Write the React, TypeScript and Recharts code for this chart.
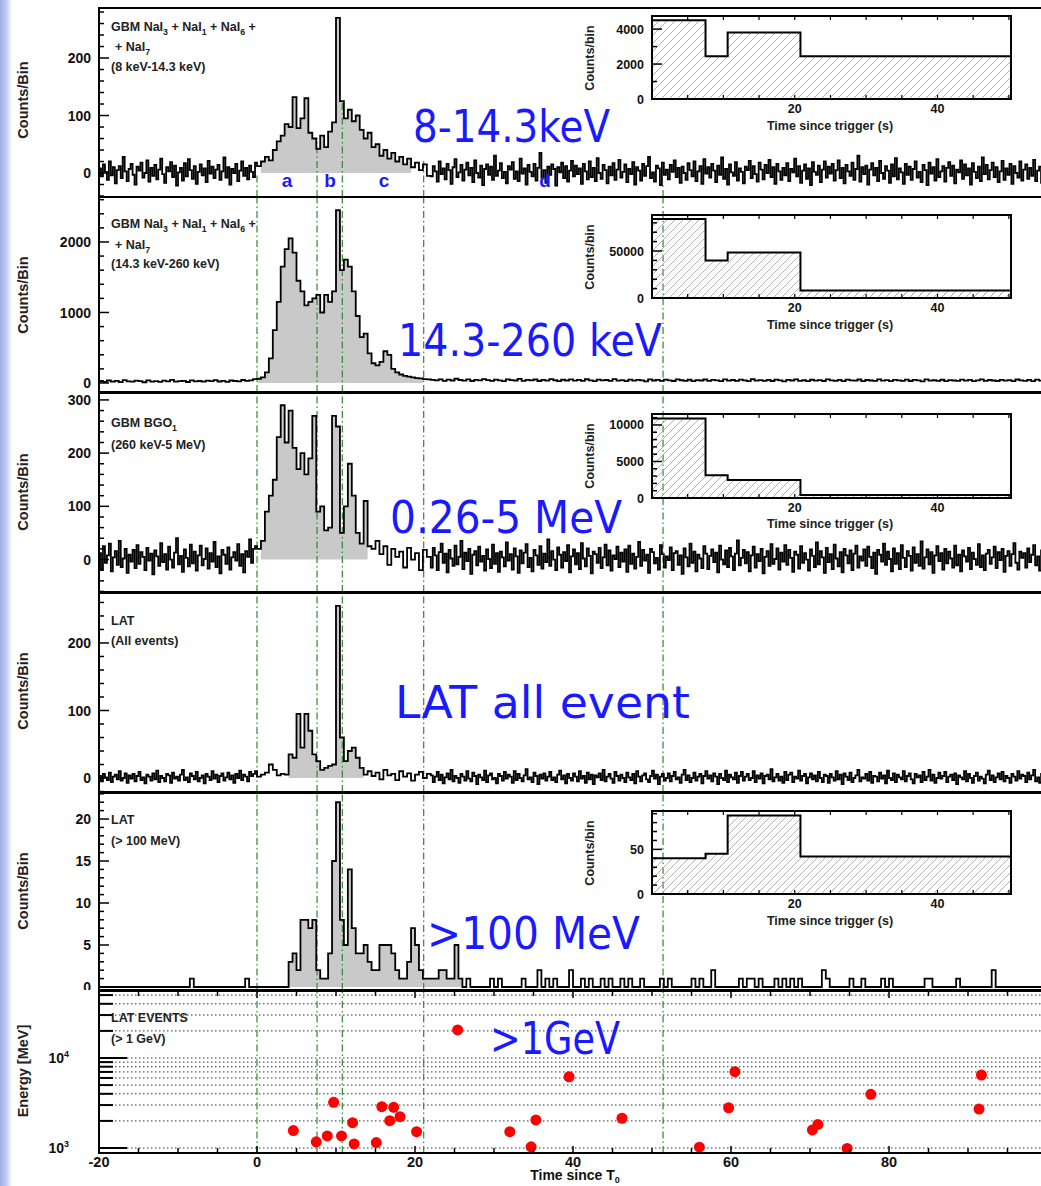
import React from 'react';
import { ComposedChart, Line, Area, XAxis, YAxis, ReferenceLine, Scatter } from 'recharts';

// light curves: pre-burst (-20..0 s) and tail (22..100 s) in 0.25 s bins where noted, burst (0..22 s) in 0.5 s bins
const naiLowPre = [
  8, -6, 15, 2, -12, 20, -4, 10, -18, 5, 12, -9, 28, 3, -14, 7, 16, -3, -20, 11,
  4, 18, -8, 0, 22, -15, 9, -5, 14, -11, 6, 25, -2, -17, 10, 3, 19, -7, 13, -22,
  1, 9, -13, 17, -6, 24, 5, -10, 12, -19, 2, 15, -4, 8, -16, 21, -1, 11, -9, 6,
  14, -12, 3, 27, -8, 10, -20, 7, 0, 16, -14, 4, 20, -5, 9, -11, 13, 2, -7, 18,
];
const naiLowBurst = [12, 20, 28, 22, 40, 55, 65, 85, 80, 132, 78, 95, 130, 70, 60, 42, 65, 45, 72, 88, 270, 125, 95, 110, 90, 100, 75, 60, 70, 45, 50, 30, 40, 25, 35, 20, 28, 15, 25, 10, 18, 5, 15, -5];
const naiLowPost = [
  -6, 12, 3, -15, 20, -2, 8, -11, 16, 5, -19, 10, 24, -7, 1, 14, -13, 6, 18, -4,
  9, -16, 22, 0, -8, 13, -21, 7, 15, -3, 11, -12, 30, -5, 4, 17, -9, 2, -18, 12,
  6, 19, -10, 3, -14, 25, -1, 8, -20, 14, 2, -6, 16, -13, 9, 35, -8, 5, -17, 11,
  -3, 15, 7, -22, 10, 1, 18, -9, 12, -15, 4, 21, -6, 13, -2, 8, -19, 16, 3, -11,
  20, -7, 9, -14, 26, 0, -10, 14, 5, -18, 11, -4, 17, -12, 6, 23, -8, 2, 15, -16,
  7, -2, 19, -20, 10, 4, -13, 16, -5, 12, 28, -9, 1, -15, 13, 8, -21, 18, -3, 6,
  -11, 14, 2, 22, -7, 9, -17, 11, 0, -12, 17, 5, -6, 20, -14, 3, 12, -19, 24, -1,
  10, -8, 16, 4, -16, 13, -3, 27, -10, 7, -20, 15, 1, -5, 19, -13, 8, 2, -18, 11,
  5, 21, -9, 12, -2, -15, 18, 6, -11, 14, 0, 23, -7, 10, -19, 16, 3, -12, 9, -4,
  17, -14, 7, 1, 25, -6, 12, -17, 4, 15, -10, 8, -21, 19, 2, -3, 13, -16, 6, 20,
  -8, 11, -1, 16, -13, 5, 22, -9, 9, -18, 14, 3, -5, 18, -12, 7, 30, -15, 10, -2,
  13, -20, 6, 17, -4, 9, -14, 21, 0, -10, 12, 4, -17, 15, -6, 26, -11, 8, 1, -19,
  16, -3, 11, -12, 7, 20, -8, 2, -16, 14, 5, -21, 18, -1, 10, -13, 24, -7, 3, 12,
  -15, 9, 19, -5, 13, -18, 6, 1, 22, -10, 15, -4, 8, -20, 17, 2, -9, 11, -14, 27,
  -2, 14, -11, 5, 18, -7, 10, -16, 3, 21, -12, 8, -3, 16, -19, 12, 0, -8, 20, -13,
  6, 15, -10, 9, -5, 23, -14, 4, 11, -17, 7, 19,
];

const naiHighPre = [28, 15, 35, 20, 30, 12, 40, 22, 18, 33, 25, 10, 38, 20, 27, 15, 32, 24, 45, 18, 26, 30, 14, 36, 22, 28, 19, 34, 25, 40, 21, 30, 17, 35, 28, 24, 42, 30, 38, 55];
const naiHighBurst = [60, 80, 150, 350, 750, 1150, 1650, 1900, 2050, 1850, 1450, 1300, 1100, 1150, 1200, 1250, 1000, 1250, 1150, 1300, 2450, 1600, 1750, 1650, 1300, 950, 650, 700, 420, 280, 250, 300, 450, 400, 200, 150, 120, 100, 90, 80, 70, 65, 55, 50];
const naiHighPost = [
  45, 38, 52, 30, 48, 35, 60, 42, 33, 50, 28, 44,
  36, 55, 40, 31, 47, 38, 26, 52, 41, 35, 58, 30,
  43, 37, 49, 28, 45, 33, 54, 39, 27, 46, 35, 50,
  32, 44, 29, 53, 38, 25, 47, 36, 42, 30, 56, 34,
  40, 27, 48, 33, 45, 38, 24, 51, 35, 43, 30, 47,
  36, 28, 52, 39, 31, 46, 26, 41, 35, 49, 30, 44,
  38, 25, 50, 33, 42, 29, 47, 36, 27, 53, 34, 40,
  31, 45, 28, 48, 37, 24, 43, 35, 50, 30, 39, 26,
  46, 33, 41, 28, 52, 36, 30, 44, 25, 47, 38, 32,
  49, 27, 42, 35, 29, 51, 33, 40, 26, 45, 37, 31,
  48, 28, 43, 36, 24, 50, 34, 39, 30, 46, 27, 41,
  35, 29, 47, 32, 44, 26, 38, 51, 30, 42, 35, 28,
  45, 33, 40, 27, 49, 36, 31, 43, 25, 47, 34, 38,
];

const bgoPre = [
  12, -18, 25, -6, 8, 30, -22, 4, 16, -10, 35, -14, 2, 20, -25, 9, -4, 18, -16, 27,
  -8, 14, 5, -20, 22, -2, 11, -28, 17, 6, -12, 31, -5, 10, -19, 24, 0, -15, 13, 40,
  -9, 7, -23, 19, 3, -13, 28, -7, 15, -21, 8, 26, -11, 1, 21, -17, 12, -4, 33, -14,
  6, -26, 18, 9, -8, 23, -19, 4, 14, -2, 29, -12, 10, -24, 16, 5, 38, -6, 20, 25,
];
const bgoBurst = [20, 35, 90, 120, 150, 230, 290, 220, 280, 210, 170, 200, 160, 190, 270, 90, 100, 55, 60, 270, 250, 50, 100, 180, 120, 50, 30, 110, 25, 20, 35, 10, 25, -10, 20, 5, 15, -15, 22, 0, 12, -20, 18, 5];
const bgoPost = [
  -15, 22, 8, -20, 14, 30, -6, 11, -24, 18, 2, -12, 26, -9, 5, 35, -18, 13, -3, 20,
  -27, 9, 16, -11, 24, -4, 7, -21, 19, 1, -16, 28, -8, 12, -23, 15, 4, -13, 32, -2,
  10, -19, 21, 6, -25, 17, -7, 13, 29, -14, 3, -22, 18, 8, -10, 25, -17, 11, -5, 38,
  -12, 16, 0, -20, 23, 9, -15, 14, -3, 27, -24, 6, 19, -9, 12, -18, 31, 2, -13, 21,
  7, -26, 15, 10, -6, 22, -16, 4, 28, -11, 17, -21, 8, 1, 24, -14, 13, -4, 19, -23,
  26, -8, 11, -17, 5, 33, -12, 18, -2, 9, -25, 20, 14, -7, 3, -19, 27, 10, -15, 6,
  -1, 23, -20, 12, 16, -10, 8, -27, 21, 4, -13, 30, -6, 15, -22, 9, 2, -16, 25, 11,
  -18, 7, 19, -5, 13, -24, 26, 0, -9, 17, -14, 22, 6, -20, 11, 36, -11, 3, 18, -7,
  14, -22, 8, 24, -15, 10, -3, 20, -26, 5, 16, -12, 29, -8, 1, 21, -19, 13, -4, 27,
  -10, 18, 3, -23, 15, 9, -17, 25, -6, 12, 0, -21, 19, 7, -14, 32, -9, 16, 4, -25,
  22, -5, 10, -18, 28, 2, -13, 14, -24, 20, 8, -7, 17, -20, 11, 26, -15, 6, -2, 19,
  -12, 24, 5, -16, 13, -27, 18, 9, -4, 30, -10, 15, 1, -22, 21, -8, 12, -18, 27, 3,
  -14, 16, 7, -21, 23, -6, 10, -12, 34, -17, 4, 19, -9, 14, -25, 8, 25, -3, 12, -19,
  20, -7, 15, 2, -15, 26, -11, 9, -22, 17, 6, -4, 22, -18, 13, 1, -10, 29, -14, 8,
  -20, 11, 18, -8, 4, 24, -16, 14, -1, 20, -23, 7, 16, -12, 10, 31, -6, -19, 15, 3,
  12, -15, 21, -5, 9, 27, -11, 6, -21, 17, 2, 14,
];

const latAllPre = [
  3, -5, 6, 1, -3, 8, -6, 2, 5, -2, 10, -4, 0, 7, -7, 4, -1, 6, -5, 3,
  9, -3, 1, -8, 5, 2, -4, 7, -2, 11, -6, 3, 0, -5, 6, 4, -7, 8, -1, 2,
  -4, 5, 12, -3, 1, -6, 7, 3, -2, 9, -5, 0, 4, -8, 6, 2, -3, 10, -1, 5,
  -6, 3, 7, -4, 1, 8, -2, 4, -7, 6, 0, 11, -3, 5, 2, -5, 9, 3, 6, 10,
];
const latAllBurst = [2, 5, 8, 20, 12, 4, 6, 5, 35, 30, 95, 45, 95, 70, 35, 25, 12, 15, 18, 20, 255, 60, 25, 40, 45, 30, 15, 5, 10, 3, 8, -2, 12, 4, 6, -3, 10, 2, 7, -4, 5, 9, 0, 6];
const latAllPost = [
  4, -6, 2, 9, -3, 5, -8, 1, 7, -2, 12, -5, 3, 0, -7, 6, 2, -4, 10, -1,
  -5, 8, 3, -9, 5, 1, -3, 11, -6, 4, 7, -2, 0, -8, 6, 3, -4, 9, -1, 5,
  2, -7, 10, -3, 6, 0, -5, 4, 13, -2, 1, -6, 8, 3, -9, 5, -1, 7, -4, 2,
  9, -3, 1, -6, 5, 11, -2, 4, -8, 6, 0, -4, 7, 2, -5, 10, -1, 3, -7, 8,
  -2, 5, -9, 4, 1, 7, -3, 12, -5, 2, 6, -1, -7, 9, 3, -4, 5, 0, -6, 8,
  1, -3, 6, -8, 10, 2, -5, 4, 7, -2, -6, 3, 11, -1, 5, -9, 2, 6, -4, 0,
  7, -5, 3, 9, -2, 1, -7, 5, 12, -3, 4, -6, 0, 8, -4, 2, 6, -8, 3, 10,
  -1, 4, -5, 7, 2, -9, 6, 0, -3, 11, -6, 5, 1, -2, 8, -7, 3, 9, -4, 2,
  6, -3, 0, 10, -6, 4, -1, 7, -8, 3, 5, -2, 13, -5, 1, 6, -4, 2, -7, 9,
  -3, 5, 8, -6, 2, -1, 11, -4, 3, 6, -8, 1, 7, -2, 4, -5, 9, 0, -6, 5,
  3, -7, 6, 1, -4, 10, -2, 5, -9, 7, 2, -3, 8, -6, 0, 4, 12, -5, 1, -1,
  6, -4, 9, -7, 3, 2, -5, 8, -1, 4, -8, 11, 0, -3, 7, -6, 5, 1, -2, 10,
  -5, 3, 7, -2, -8, 6, 1, 4, -6, 9, -3, 2, 12, -4, 5, -7, 0, 8, -1, 3,
  9, -6, 2, 5, -3, 7, -9, 4, 1, -2, 10, -5, 6, 0, -7, 3, 8, -4, 2, -1,
  -8, 5, 11, -3, 4, -6, 1, 7, -2, 9, -5, 3, 0, -7, 6, 2, -4, 10, -1, 5,
  3, -6, 8, -2, 4, 12, -5, 1, -7, 6, 0, 7,
];

const lat100Pre = [0, 0, 0, 0, 0, 0, 0, 0, 0, 0, 0, 0, 0, 0, 0, 0, 0, 0, 0, 0, 0, 0, 0, 1, 0, 0, 0, 0, 0, 0, 0, 0, 0, 0, 0, 0, 0, 1, 0, 0];
const lat100Burst = [0, 0, 0, 0, 0, 0, 0, 0, 3, 4, 2, 8, 8, 7, 8, 2, 1, 1, 4, 15, 22, 8, 5, 14, 7, 4, 4, 5, 3, 2, 2, 5, 5, 5, 4, 2, 1, 1, 3, 7, 5, 2, 1, 1];
const lat100Post = [
  1, 1, 2, 2, 1, 1, 5, 1, 0, 1,
  0, 0, 0, 0, 0, 1, 0, 1, 0, 0,
  0, 0, 0, 1, 0, 0, 0, 2, 0, 1,
  0, 1, 0, 0, 0, 2, 0, 0, 1, 0,
  1, 0, 0, 1, 0, 1, 0, 0, 1, 0,
  1, 0, 0, 1, 0, 0, 0, 0, 1, 0,
  1, 0, 0, 0, 0, 0, 1, 0, 1, 0,
  0, 2, 0, 0, 0, 0, 0, 0, 1, 0,
  1, 1, 0, 1, 0, 0, 0, 1, 0, 1,
  0, 1, 0, 1, 0, 0, 0, 0, 0, 2,
  1, 0, 0, 0, 0, 0, 1, 0, 0, 1,
  0, 0, 0, 0, 1, 0, 1, 0, 0, 0,
  0, 0, 0, 0, 0, 1, 1, 0, 0, 0,
  0, 0, 0, 1, 0, 0, 0, 0, 0, 0,
  0, 0, 2, 0, 0, 0, 0, 0, 0, 0,
  0, 0, 0, 0, 0, 0,
];

// LAT events above 1 GeV
const eventTimes = [4.6, 7.5, 8.9, 9.7, 10.7, 12.1, 12.3, 15.1, 15.8, 17.3, 16.8, 18.1, 20.2, 25.4, 32.0, 34.7, 35.3, 39.5, 46.2, 56.0, 59.7, 60.5, 70.3, 71.0, 74.7, 77.7, 91.4, 91.7];
const eventEnergies = [1560, 1170, 1360, 3220, 1360, 1910, 1110, 1150, 2880, 2830, 2010, 2230, 1520, 20500, 1520, 1030, 2050, 6190, 2140, 1020, 2800, 7050, 1590, 1830, 990, 3950, 2710, 6470];

// interval boundaries (a, b, c, d)
const dividers = [0, 7.6, 10.8, 21.1, 51.4];
const insetEdges = [0, 7.5, 10.6, 20.8, 50.3];
const insetNaiLow = [4500, 2450, 3800, 2450];
const insetNaiHigh = [84000, 40000, 48500, 8000];
const insetBgo = [10900, 3100, 2450, 400];
const insetLat = [40, 45, 88, 42];

const timeTicks = [-20, -15, -10, -5, 0, 5, 10, 15, 20, 25, 30, 35, 40, 45, 50, 55, 60, 65, 70, 75, 80, 85, 90, 95, 100];
const timeLabels = [-20, 0, 20, 40, 60, 80];
const insetTimeTicks = [0, 5, 10, 15, 20, 25, 30, 35, 40, 45, 50];
const insetTimeLabels = [20, 40];
const energyTicks = [1000, 2000, 3000, 4000, 5000, 6000, 7000, 8000, 9000, 10000, 20000, 30000, 40000, 50000];

const FONT = '"Liberation Sans", Arial, sans-serif';
const PLOT_L = 99;
const CHART_W = 1060;
const GREEN = '#2d8a2d';
const BLUE = '#1a1aff';

type Segment = { start: number; bin: number; values: number[] };

function histRows(segments: Segment[], fillFrom: number, fillTo: number) {
  const rows: { t: number; v: number; fill: number | null }[] = [];
  const push = (t: number, v: number) =>
    rows.push({ t, v, fill: t >= fillFrom && t <= fillTo ? Math.max(0, v) : null });
  segments.forEach((s) => s.values.forEach((v, i) => push(s.start + i * s.bin, v)));
  const last = segments[segments.length - 1];
  push(100, last.values[last.values.length - 1]);
  return rows;
}

const frameTicks = (plotH: number, labels: boolean, list: number[]) => (p: any) => {
  const x = p.payload.coordinate ?? p.x;
  const v = p.payload.value;
  const len = v % 20 === 0 ? 7 : 5;
  return (
    <g>
      <line x1={x} x2={x} y1={0} y2={len} stroke="#000" strokeWidth={1.5} />
      <line x1={x} x2={x} y1={plotH} y2={plotH - len} stroke="#000" strokeWidth={1.5} />
      {labels && list.includes(v) && (
        <text x={x} y={plotH + 14} textAnchor="middle" fontSize={14.5} fontWeight="bold" fill="#111" fontFamily={FONT}>
          {v}
        </text>
      )}
    </g>
  );
};

const countTicks = (majors: number[], left: number, size: number) => (p: any) => {
  const y = p.payload.coordinate ?? p.y;
  const v = p.payload.value;
  const major = majors.includes(v);
  return (
    <g>
      <line x1={left} x2={left + (major ? 10 : 5)} y1={y} y2={y} stroke="#000" strokeWidth={1.5} />
      {major && (
        <text x={left - 8} y={y + size * 0.36} textAnchor="end" fontSize={size} fontWeight="bold" fill="#111" fontFamily={FONT}>
          {v}
        </text>
      )}
    </g>
  );
};

const energyTick = (p: any) => {
  const y = p.payload.coordinate ?? p.y;
  const v = p.payload.value;
  const major = v === 1000 || v === 10000;
  return (
    <g>
      <line x1={PLOT_L} x2={PLOT_L + (major ? 28 : 14)} y1={y} y2={y} stroke="#000" strokeWidth={2} />
      {major && (
        <text x={PLOT_L - 30} y={y + 5} textAnchor="end" fontSize={14} fontWeight="bold" fill="#111" fontFamily={FONT}>
          10<tspan dy={-6} fontSize={9}>{v === 1000 ? '3' : '4'}</tspan>
        </text>
      )}
    </g>
  );
};

type Guide = { x: number; upTo?: number };

function CountPanel(props: {
  top: number; height: number; domain: [number, number]; ticks: number[]; majors: number[];
  segments: Segment[]; fillFrom: number; fillTo: number; guides: Guide[];
}) {
  const { top, height, domain, ticks, majors, segments, fillFrom, fillTo, guides } = props;
  const rows = histRows(segments, fillFrom, fillTo);
  return (
    <div style={{ position: 'absolute', left: 0, top, width: CHART_W, height }}>
      <ComposedChart width={CHART_W} height={height} data={rows} margin={{ top: 0, right: 13, bottom: 0, left: 0 }}>
        <XAxis dataKey="t" type="number" domain={[-20, 100]} ticks={timeTicks} interval={0} height={0}
          axisLine={false} tickLine={false} tick={frameTicks(height, false, timeLabels)} allowDataOverflow />
        <YAxis type="number" domain={domain} ticks={ticks} interval={0} width={PLOT_L}
          axisLine={false} tickLine={false} tick={countTicks(majors, PLOT_L, 14)} allowDataOverflow />
        <Area type="stepAfter" dataKey="fill" stroke="none" fill="#c9c9c9" fillOpacity={1} baseValue={0}
          isAnimationActive={false} connectNulls={false} />
        {guides.map((g) =>
          g.upTo === undefined ? (
            <ReferenceLine key={g.x} x={g.x} stroke={GREEN} strokeWidth={1.2} strokeDasharray="7 3 1.5 3" />
          ) : (
            <ReferenceLine key={g.x} segment={[{ x: g.x, y: domain[0] }, { x: g.x, y: g.upTo }]}
              stroke={GREEN} strokeWidth={1.2} strokeDasharray="7 3 1.5 3" />
          )
        )}
        <Line type="stepAfter" dataKey="v" stroke="#000" strokeWidth={1.8} dot={false} isAnimationActive={false} />
      </ComposedChart>
      <div style={{ position: 'absolute', left: PLOT_L - 1, top: -1, width: 1100, height: height + 2,
        border: '2px solid #000', boxSizing: 'border-box', pointerEvents: 'none' }} />
    </div>
  );
}

function Inset(props: { top: number; boxH: number; maxY: number; ticks: number[]; majors: number[]; values: number[] }) {
  const { top, boxH, maxY, ticks, majors, values } = props;
  const rows = insetEdges.map((t, i) => ({ t, v: values[Math.min(i, values.length - 1)] }));
  const id = `hatch${top}`;
  const yw = 92;
  return (
    <div style={{ position: 'absolute', left: 560, top, width: 461, height: boxH + 18 }}>
      <ComposedChart width={461} height={boxH + 18} data={rows} margin={{ top: 0, right: 10, bottom: 0, left: 0 }}>
        <defs>
          <pattern id={id} patternUnits="userSpaceOnUse" width={8} height={8}>
            <path d="M-2,2 l4,-4 M0,8 l8,-8 M6,10 l4,-4" stroke="#a8a8a8" strokeWidth={0.9} />
          </pattern>
        </defs>
        <XAxis dataKey="t" type="number" domain={[0, 50.3]} ticks={insetTimeTicks} interval={0} height={18}
          axisLine={false} tickLine={false} allowDataOverflow
          tick={(p: any) => {
            const x = p.payload.coordinate ?? p.x;
            const v = p.payload.value;
            return (
              <g>
                <line x1={x} x2={x} y1={0} y2={4} stroke="#000" strokeWidth={1.2} />
                <line x1={x} x2={x} y1={boxH} y2={boxH - 4} stroke="#000" strokeWidth={1.2} />
                {insetTimeLabels.includes(v) && (
                  <text x={x} y={boxH + 14} textAnchor="middle" fontSize={12.5} fontWeight="bold" fill="#111" fontFamily={FONT}>{v}</text>
                )}
              </g>
            );
          }} />
        <YAxis type="number" domain={[0, maxY]} ticks={ticks} interval={0} width={yw}
          axisLine={false} tickLine={false} tick={countTicks(majors, yw, 12.5)} allowDataOverflow />
        <Area type="stepAfter" dataKey="v" stroke="#000" strokeWidth={2} fill={`url(#${id})`} fillOpacity={1}
          baseValue={0} isAnimationActive={false} />
      </ComposedChart>
      <div style={{ position: 'absolute', left: yw - 1, top: -1, width: 461 - 10 - yw + 2, height: boxH + 2,
        border: '2px solid #000', boxSizing: 'border-box', pointerEvents: 'none' }} />
    </div>
  );
}

function EventPanel() {
  const top = 991;
  const plotH = 162;
  const h = plotH + 28;
  const events = eventTimes.map((t, i) => ({ t, e: eventEnergies[i] }));
  return (
    <div style={{ position: 'absolute', left: 0, top, width: CHART_W, height: h }}>
      <ComposedChart width={CHART_W} height={h} margin={{ top: 0, right: 13, bottom: 0, left: 0 }}>
        <XAxis dataKey="t" type="number" domain={[-20, 100]} ticks={timeTicks} interval={0} height={28}
          axisLine={false} tickLine={false} tick={frameTicks(plotH, true, timeLabels)} allowDataOverflow />
        <YAxis dataKey="e" type="number" scale="log" domain={[880, 55500]} ticks={energyTicks} interval={0} width={PLOT_L}
          axisLine={false} tickLine={false} tick={energyTick} allowDataOverflow />
        {energyTicks.map((e) => (
          <ReferenceLine key={e} y={e} stroke="#333" strokeWidth={1} strokeDasharray="1.5 2.5" />
        ))}
        {dividers.map((x) => (
          <ReferenceLine key={x} x={x} stroke={GREEN} strokeWidth={1.2} strokeDasharray="7 3 1.5 3" />
        ))}
        <Scatter data={events} dataKey="e" isAnimationActive={false}
          shape={(p: any) => <circle cx={p.cx} cy={p.cy} r={5.5} fill="#ff0000" />} />
      </ComposedChart>
      <div style={{ position: 'absolute', left: PLOT_L - 1, top: -1, width: 1100, height: plotH + 2,
        border: '2px solid #000', boxSizing: 'border-box', pointerEvents: 'none' }} />
    </div>
  );
}

function Rich({ x, y, parts, size }: { x: number; y: number; parts: string[]; size: number }) {
  let lowered = false;
  return (
    <text x={x} y={y} fontSize={size} fontWeight="bold" fill="#222" fontFamily={FONT} style={{ whiteSpace: 'pre' }}>
      {parts.map((p, i) => {
        const sub = p.startsWith('_');
        const dy = sub && !lowered ? size * 0.35 : !sub && lowered ? -size * 0.35 : 0;
        lowered = sub;
        return (
          <tspan key={i} dy={dy} fontSize={sub ? size * 0.7 : size}>
            {sub ? p.slice(1) : p}
          </tspan>
        );
      })}
    </text>
  );
}

const naiLine = ['GBM NaI', '_3', ' + NaI', '_1', ' + NaI', '_6', ' +'];

const guidesLow: Guide[] = [
  { x: 0, upTo: 0 }, { x: 7.6, upTo: 61 }, { x: 10.8, upTo: 127 }, { x: 21.1, upTo: 23 }, { x: 51.4, upTo: -16 },
];
const guidesAll: Guide[] = dividers.map((x) => ({ x }));

function VTitle({ x, y, text, size }: { x: number; y: number; text: string; size: number }) {
  return (
    <text transform={`translate(${x},${y}) rotate(-90)`} textAnchor="middle" dy={size * 0.35}
      fontSize={size} fontWeight="bold" fill="#222" fontFamily={FONT}>
      {text}
    </text>
  );
}

function Blue({ x, y, w, text }: { x: number; y: number; w: number; text: string }) {
  return (
    <text x={x} y={y} fontSize={44} fill={BLUE} fontFamily='"DejaVu Sans", sans-serif'
      textLength={w} lengthAdjust="spacingAndGlyphs">
      {text}
    </text>
  );
}

const fine = (pre: number[], burst: number[], post: number[]): Segment[] => [
  { start: -20, bin: 0.25, values: pre },
  { start: 0, bin: 0.5, values: burst },
  { start: 22, bin: 0.25, values: post },
];
const coarse = (pre: number[], burst: number[], post: number[]): Segment[] => [
  { start: -20, bin: 0.5, values: pre },
  { start: 0, bin: 0.5, values: burst },
  { start: 22, bin: 0.5, values: post },
];

export default function App() {
  return (
    <div style={{ position: 'absolute', left: 0, top: 0, width: 1041, height: 1186, overflow: 'hidden',
      background: '#fff', fontFamily: FONT }}>
      <div style={{ position: 'absolute', left: 0, top: 0, width: 12, height: 1186,
        background: 'linear-gradient(to right, #9eade6, #c3cdf2 55%, #ffffff)' }} />

      <CountPanel top={8} height={189} domain={[-41.7, 287]}
        ticks={[-40, -20, 0, 20, 40, 60, 80, 100, 120, 140, 160, 180, 200, 220, 240, 260, 280]} majors={[0, 100, 200]}
        segments={fine(naiLowPre, naiLowBurst, naiLowPost)} fillFrom={0.5} fillTo={19.5} guides={guidesLow} />
      <CountPanel top={197} height={195} domain={[-128, 2638]}
        ticks={[0, 200, 400, 600, 800, 1000, 1200, 1400, 1600, 1800, 2000, 2200, 2400, 2600]} majors={[0, 1000, 2000]}
        segments={coarse(naiHighPre, naiHighBurst, naiHighPost)} fillFrom={0} fillTo={21} guides={guidesAll} />
      <CountPanel top={393} height={199} domain={[-61, 313]}
        ticks={[-60, -40, -20, 0, 20, 40, 60, 80, 100, 120, 140, 160, 180, 200, 220, 240, 260, 280, 300]} majors={[0, 100, 200, 300]}
        segments={fine(bgoPre, bgoBurst, bgoPost)} fillFrom={0.5} fillTo={14} guides={guidesAll} />
      <CountPanel top={593} height={199} domain={[-20.7, 274]}
        ticks={[-20, 0, 20, 40, 60, 80, 100, 120, 140, 160, 180, 200, 220, 240, 260]} majors={[0, 100, 200]}
        segments={fine(latAllPre, latAllBurst, latAllPost)} fillFrom={4} fillTo={13.5} guides={guidesAll} />
      <CountPanel top={793} height={197} domain={[-0.36, 23.1]}
        ticks={[0, 1, 2, 3, 4, 5, 6, 7, 8, 9, 10, 11, 12, 13, 14, 15, 16, 17, 18, 19, 20, 21, 22, 23]} majors={[0, 5, 10, 15, 20]}
        segments={coarse(lat100Pre, lat100Burst, lat100Post)} fillFrom={4} fillTo={26} guides={guidesAll} />
      <EventPanel />

      <Inset top={16} boxH={83} maxY={4750} ticks={[0, 1000, 2000, 3000, 4000]} majors={[0, 2000, 4000]} values={insetNaiLow} />
      <Inset top={215} boxH={83} maxY={88300} ticks={[0, 10000, 20000, 30000, 40000, 50000, 60000, 70000, 80000]} majors={[0, 50000]} values={insetNaiHigh} />
      <Inset top={414} boxH={84} maxY={11500} ticks={[0, 1000, 2000, 3000, 4000, 5000, 6000, 7000, 8000, 9000, 10000, 11000]} majors={[0, 5000, 10000]} values={insetBgo} />
      <Inset top={811} boxH={83} maxY={93} ticks={[0, 10, 20, 30, 40, 50, 60, 70, 80, 90]} majors={[0, 50]} values={insetLat} />

      <svg width={1041} height={1186} style={{ position: 'absolute', left: 0, top: 0, pointerEvents: 'none' }}>
        <VTitle x={23} y={100} text="Counts/Bin" size={14.5} />
        <VTitle x={23} y={295} text="Counts/Bin" size={14.5} />
        <VTitle x={23} y={492} text="Counts/Bin" size={14.5} />
        <VTitle x={23} y={691} text="Counts/Bin" size={14.5} />
        <VTitle x={23} y={891} text="Counts/Bin" size={14.5} />
        <VTitle x={23} y={1071} text="Energy [MeV]" size={14.5} />

        <Rich x={111} y={31} size={12.5} parts={naiLine} />
        <Rich x={115} y={51} size={12.5} parts={['+ NaI', '_7']} />
        <Rich x={111} y={71} size={12.5} parts={['(8 keV-14.3 keV)']} />
        <Rich x={111} y={228} size={12.5} parts={naiLine} />
        <Rich x={115} y={249} size={12.5} parts={['+ NaI', '_7']} />
        <Rich x={111} y={268} size={12.5} parts={['(14.3 keV-260 keV)']} />
        <Rich x={111} y={427} size={12.5} parts={['GBM BGO', '_1']} />
        <Rich x={111} y={449} size={12.5} parts={['(260 keV-5 MeV)']} />
        <Rich x={111} y={625} size={12.5} parts={['LAT']} />
        <Rich x={111} y={645} size={12.5} parts={['(All events)']} />
        <Rich x={111} y={824} size={12.5} parts={['LAT']} />
        <Rich x={111} y={845} size={12.5} parts={['(> 100 MeV)']} />
        <Rich x={111} y={1022} size={12.5} parts={['LAT EVENTS']} />
        <Rich x={111} y={1043} size={12.5} parts={['(> 1 GeV)']} />

        {[16, 215, 414, 811].map((t) => (
          <g key={t}>
            <VTitle x={590} y={t + 42} text="Counts/bin" size={12.5} />
            <text x={830} y={t + 114} textAnchor="middle" fontSize={12.5} fontWeight="bold" fill="#222" fontFamily={FONT}>
              Time since trigger (s)
            </text>
          </g>
        ))}

        <text x={575} y={1180} textAnchor="middle" fontSize={14} fontWeight="bold" fill="#111" fontFamily={FONT}>
          Time since T<tspan dy={3} fontSize={9}>0</tspan>
        </text>

        {[['a', 287], ['b', 330], ['c', 384], ['d', 545]].map(([s, x]) => (
          <text key={s as string} x={x as number} y={187} textAnchor="middle" fontSize={19} fontWeight="bold"
            fill={BLUE} fontFamily={FONT}>
            {s}
          </text>
        ))}

        <Blue x={413} y={142} w={197} text="8-14.3keV" />
        <Blue x={398} y={356} w={264} text="14.3-260 keV" />
        <Blue x={390} y={533} w={232} text="0.26-5 MeV" />
        <Blue x={395} y={718} w={295} text="LAT all event" />
        <Blue x={427} y={949} w={213} text=">100 MeV" />
        <Blue x={490} y={1054} w={130} text=">1GeV" />
      </svg>
    </div>
  );
}
